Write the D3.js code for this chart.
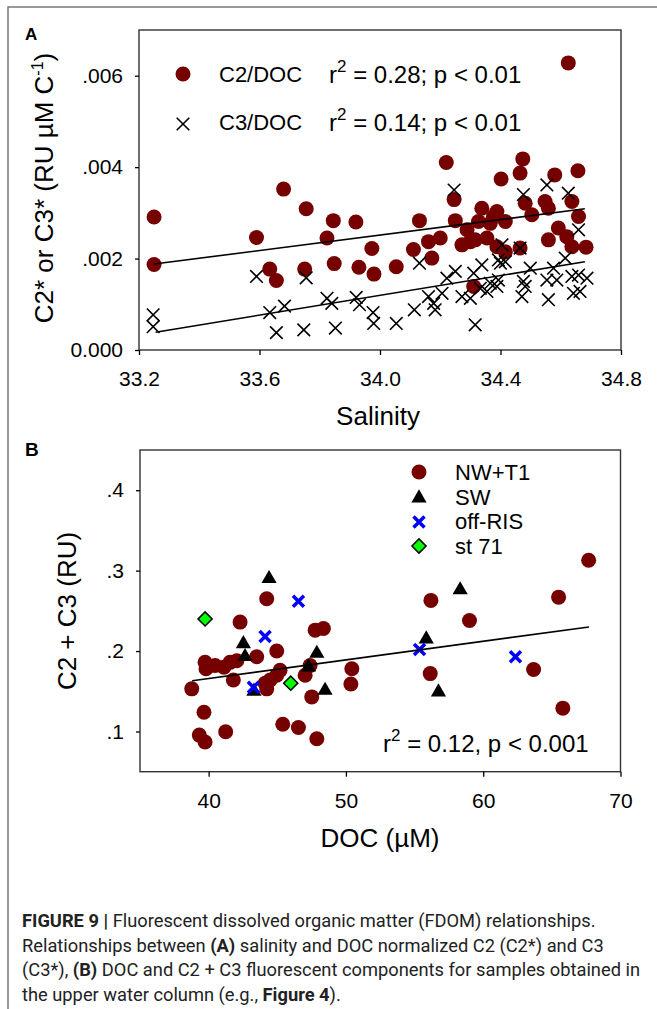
<!DOCTYPE html>
<head>
<meta charset="utf-8">
<title>FDOM relationships</title>
<script src="https://cdn.jsdelivr.net/npm/d3@7/dist/d3.min.js"></script>
<style>
    body { margin: 0; background: #fff; }
    text { font-family: "Liberation Sans", Arial, sans-serif; }
</style>
</head>
<body>
<script>
    // ---- panel A data (salinity vs DOC normalised C2 / C3) ----
    var c2Sal = [33.25, 33.25, 33.59, 33.68, 33.755, 33.845, 33.92, 33.824, 33.973, 33.634,
                 33.656, 33.75, 33.848, 33.93, 33.98, 34.054, 34.131, 34.111, 34.161, 34.2,
                 34.172, 34.22, 34.246, 34.25, 34.272, 34.3, 34.327, 34.338, 34.316, 34.355,
                 34.388, 34.416, 34.366, 34.388, 34.416, 34.465, 34.402, 34.474, 34.465, 34.482,
                 34.504, 34.548, 34.559, 34.559, 34.58, 34.592, 34.62, 34.637, 34.659, 34.637,
                 34.684, 34.657, 34.625, 34.311, 34.289, 34.377];
    var c2Val = [0.00291, 0.00187, 0.00246, 0.00352, 0.00309, 0.00283, 0.0028, 0.00245, 0.00222, 0.00177,
                 0.00152, 0.00177, 0.00189, 0.00181, 0.00166, 0.00182, 0.00283, 0.0022, 0.00237, 0.00245,
                 0.00201, 0.0041, 0.00329, 0.00283, 0.0023, 0.00237, 0.00281, 0.0031, 0.00241, 0.00245,
                 0.00303, 0.00281, 0.00277, 0.00226, 0.00215, 0.00223, 0.00374, 0.00418, 0.00387, 0.00321,
                 0.00296, 0.00325, 0.0031, 0.00241, 0.00383, 0.00267, 0.00248, 0.00325, 0.00292, 0.00226,
                 0.00225, 0.00392, 0.00628, 0.00139, 0.00263, 0.00292];

    var c3Sal = [33.247, 33.247, 33.59, 33.634, 33.683, 33.656, 33.755, 33.747, 33.824, 33.84,
                 33.852, 33.921, 33.932, 33.977, 33.979, 34.054, 34.114, 34.131, 34.161, 34.178,
                 34.183, 34.206, 34.222, 34.25, 34.246, 34.272, 34.3, 34.316, 34.311, 34.338,
                 34.333, 34.355, 34.366, 34.388, 34.393, 34.4, 34.405, 34.393, 34.416, 34.465,
                 34.476, 34.499, 34.476, 34.482, 34.471, 34.554, 34.576, 34.554, 34.587, 34.559,
                 34.615, 34.625, 34.659, 34.637, 34.659, 34.687, 34.642, 34.664];
    var c3Val = [0.00077, 0.00051, 0.00161, 0.00082, 0.00096, 0.00038, 0.00158, 0.00044, 0.00113, 0.00102,
                 0.00048, 0.00115, 0.00099, 0.00082, 0.00058, 0.00058, 0.00088, 0.0019, 0.00117, 0.00102,
                 0.00088, 0.00124, 0.00157, 0.00172, 0.0035, 0.00117, 0.00113, 0.00055, 0.00168, 0.00186,
                 0.00135, 0.00128, 0.00146, 0.00139, 0.00153, 0.0019, 0.0023, 0.00197, 0.00193, 0.00223,
                 0.0034, 0.00179, 0.0015, 0.00139, 0.00117, 0.00361, 0.00179, 0.00153, 0.00153, 0.0011,
                 0.00201, 0.00343, 0.00263, 0.00161, 0.00164, 0.00157, 0.00124, 0.00128];

    // fitted lines: [x, y] end points
    var c2Fit = [[33.25, 0.00188], [34.68, 0.00309]];
    var c3Fit = [[33.255, 0.00039], [34.68, 0.00193]];

    var salTicks = [33.2, 33.6, 34.0, 34.4, 34.8];
    var aTicks = [0, 0.002, 0.004, 0.006];
    var aTickLabels = ["0.000", ".002", ".004", ".006"];

    // ---- panel B data (DOC vs C2 + C3) ----
    var nwDoc = [38.77, 39.66, 39.32, 39.74, 41.24, 39.74, 39.81, 40.47, 41.12, 41.56,
                 42.05, 41.8, 42.29, 43.5, 44.23, 44.96, 44.23, 44.48, 44.96, 45.2,
                 44.11, 45.4, 46.54, 47.88, 47.51, 47.03, 47.39, 47.76, 48.36, 50.43,
                 50.36, 56.19, 56.14, 59.0, 65.49, 67.68, 63.67, 65.8];
    var nwVal = [0.153, 0.124, 0.0955, 0.087, 0.0996, 0.186, 0.178, 0.182, 0.18, 0.186,
                 0.188, 0.164, 0.236, 0.193, 0.265, 0.2, 0.153, 0.164, 0.17, 0.176,
                 0.16, 0.109, 0.105, 0.091, 0.143, 0.17, 0.182, 0.226, 0.228, 0.178,
                 0.159, 0.263, 0.172, 0.238, 0.267, 0.313, 0.177, 0.129];

    var swDoc = [44.4, 42.53, 42.65, 43.3, 47.88, 47.27, 48.48, 58.32, 55.85, 56.74];
    var swVal = [0.29, 0.209, 0.193, 0.15, 0.197, 0.18, 0.151, 0.276, 0.215, 0.149];

    var offDoc = [46.54, 44.11, 43.26, 55.36, 62.35];
    var offVal = [0.262, 0.218, 0.155, 0.202, 0.193];

    var stDoc = [39.74, 45.98];
    var stVal = [0.24, 0.16];

    var bFit = [[38.8, 0.163], [67.7, 0.23]];

    var docTicks = [40, 50, 60, 70];
    var bTicks = [0.1, 0.2, 0.3, 0.4];
    var bTickLabels = [".1", ".2", ".3", ".4"];

    var darkRed = "#760000";

    var svg = d3.select("body")
                .append("svg")
                .attr("width", 657)
                .attr("height", 1009);

    // outer figure frame (only left and top visible)
    svg.append("path")
        .attr("d", "M8,1009 L8,7 L657,7")
        .attr("fill", "none")
        .attr("stroke", "#777")
        .attr("stroke-width", 1.5);

    var crossPath = function(h) {
        return "M" + (-h) + "," + (-h) + "L" + h + "," + h + "M" + (-h) + "," + h + "L" + h + "," + (-h);
    };

    // ================= panel A =================
    var xA = d3.scaleLinear().domain([33.2, 34.8]).range([139, 621]);
    var yA = d3.scaleLinear().domain([0, 0.007]).range([350, 30]);

    var gA = svg.append("g");

    gA.append("rect")
        .attr("x", xA.range()[0])
        .attr("y", yA.range()[1])
        .attr("width", xA.range()[1] - xA.range()[0])
        .attr("height", yA.range()[0] - yA.range()[1])
        .attr("fill", "none")
        .attr("stroke", "#333")
        .attr("stroke-width", 1.4);

    gA.append("g")
        .attr("transform", "translate(0," + yA.range()[0] + ")")
        .call(d3.axisBottom(xA).tickValues(salTicks).tickFormat(d3.format(".1f"))
              .tickSize(5).tickPadding(16));
    gA.append("g")
        .attr("transform", "translate(" + xA.range()[0] + ",0)")
        .call(d3.axisLeft(yA).tickValues(aTicks).tickFormat(function(d, i) { return aTickLabels[i]; })
              .tickSize(4).tickPadding(12));

    // C2 circles
    gA.selectAll("circle.c2")
        .data(c2Sal)
        .enter()
        .append("circle")
            .attr("class", "c2")
            .attr("cx", function(d) { return xA(d); })
            .attr("cy", function(d, i) { return yA(c2Val[i]); })
            .attr("r", 7.5)
            .attr("fill", darkRed);

    // C3 crosses
    gA.selectAll("path.c3")
        .data(c3Sal)
        .enter()
        .append("path")
            .attr("class", "c3")
            .attr("d", crossPath(6.3))
            .attr("transform", function(d, i) { return "translate(" + xA(d) + "," + yA(c3Val[i]) + ")"; })
            .attr("stroke", "#000")
            .attr("stroke-width", 1.6);

    var lineA = d3.line().x(function(d) { return xA(d[0]); }).y(function(d) { return yA(d[1]); });
    [c2Fit, c3Fit].forEach(function(f) {
        gA.append("path")
            .attr("d", lineA(f))
            .attr("fill", "none")
            .attr("stroke", "#000")
            .attr("stroke-width", 1.6);
    });

    // legend A
    gA.append("circle").attr("cx", 183).attr("cy", 74).attr("r", 7.5).attr("fill", darkRed);
    gA.append("path").attr("d", crossPath(6.3)).attr("transform", "translate(183,124)")
        .attr("stroke", "#000").attr("stroke-width", 1.6);
    gA.append("text").attr("x", 219).attr("y", 82).style("font-size", "22px").text("C2/DOC");
    gA.append("text").attr("x", 219).attr("y", 130).style("font-size", "22px").text("C3/DOC");

    function rSquared(g, x, y, rest) {
        var t = g.append("text").attr("x", x).attr("y", y).style("font-size", "24px");
        t.append("tspan").text("r");
        t.append("tspan").attr("dy", -11).style("font-size", "17px").text("2");
        t.append("tspan").attr("dy", 11).text(" " + rest);
    }
    rSquared(gA, 329, 83, "= 0.28; p < 0.01");
    rSquared(gA, 329, 131, "= 0.14; p < 0.01");

    gA.append("text")
        .attr("x", 25).attr("y", 40)
        .style("font-size", "17px").attr("font-weight", "bold")
        .text("A");

    gA.append("text")
        .attr("x", 378).attr("y", 425)
        .attr("text-anchor", "middle")
        .style("font-size", "26px")
        .text("Salinity");

    var labA = gA.append("text")
        .attr("transform", "translate(53,188) rotate(-90)")
        .attr("text-anchor", "middle")
        .style("font-size", "26px");
    labA.append("tspan").text("C2* or C3* (RU \u00b5M C");
    labA.append("tspan").attr("dy", -10).style("font-size", "16px").text("-1");
    labA.append("tspan").attr("dy", 10).text(")");

    // ================= panel B =================
    var xB = d3.scaleLinear().domain([35, 70]).range([140, 620.5]);
    var yB = d3.scaleLinear().domain([0.05, 0.45]).range([771.7, 450]);

    var gB = svg.append("g");

    gB.append("rect")
        .attr("x", xB.range()[0])
        .attr("y", yB.range()[1])
        .attr("width", xB.range()[1] - xB.range()[0])
        .attr("height", yB.range()[0] - yB.range()[1])
        .attr("fill", "none")
        .attr("stroke", "#333")
        .attr("stroke-width", 1.4);

    gB.append("g")
        .attr("transform", "translate(0," + yB.range()[0] + ")")
        .call(d3.axisBottom(xB).tickValues(docTicks).tickFormat(d3.format("d"))
              .tickSize(5).tickPadding(16));
    gB.append("g")
        .attr("transform", "translate(" + xB.range()[0] + ",0)")
        .call(d3.axisLeft(yB).tickValues(bTicks).tickFormat(function(d, i) { return bTickLabels[i]; })
              .tickSize(4).tickPadding(12));

    gB.selectAll("circle.nw")
        .data(nwDoc)
        .enter()
        .append("circle")
            .attr("class", "nw")
            .attr("cx", function(d) { return xB(d); })
            .attr("cy", function(d, i) { return yB(nwVal[i]); })
            .attr("r", 7.5)
            .attr("fill", darkRed);

    var tri = d3.symbol().type(d3.symbolTriangle).size(100);
    gB.selectAll("path.sw")
        .data(swDoc)
        .enter()
        .append("path")
            .attr("class", "sw")
            .attr("d", tri)
            .attr("transform", function(d, i) { return "translate(" + xB(d) + "," + yB(swVal[i]) + ")"; })
            .attr("fill", "#000");

    gB.selectAll("path.off")
        .data(offDoc)
        .enter()
        .append("path")
            .attr("class", "off")
            .attr("d", crossPath(5.5))
            .attr("transform", function(d, i) { return "translate(" + xB(d) + "," + yB(offVal[i]) + ")"; })
            .attr("stroke", "#0000ff")
            .attr("stroke-width", 3.5);

    var sq = d3.symbol().type(d3.symbolSquare).size(100);
    gB.selectAll("path.st")
        .data(stDoc)
        .enter()
        .append("path")
            .attr("class", "st")
            .attr("d", sq)
            .attr("transform", function(d, i) { return "translate(" + xB(d) + "," + yB(stVal[i]) + ") rotate(45)"; })
            .attr("fill", "#00ff00")
            .attr("stroke", "#000")
            .attr("stroke-width", 1.5);

    var lineB = d3.line().x(function(d) { return xB(d[0]); }).y(function(d) { return yB(d[1]); });
    gB.append("path")
        .attr("d", lineB(bFit))
        .attr("fill", "none")
        .attr("stroke", "#000")
        .attr("stroke-width", 1.6);

    // legend B
    var legX = 419;
    gB.append("circle").attr("cx", legX).attr("cy", 472).attr("r", 7.5).attr("fill", darkRed);
    gB.append("path").attr("d", tri).attr("transform", "translate(" + legX + ",498)").attr("fill", "#000");
    gB.append("path").attr("d", crossPath(5.5)).attr("transform", "translate(" + legX + ",522)")
        .attr("stroke", "#0000ff").attr("stroke-width", 3.5);
    gB.append("path").attr("d", sq).attr("transform", "translate(" + legX + ",546) rotate(45)")
        .attr("fill", "#00ff00").attr("stroke", "#000").attr("stroke-width", 1.5);
    var legNames = ["NW+T1", "SW", "off-RIS", "st 71"];
    gB.selectAll("text.leg")
        .data(legNames)
        .enter()
        .append("text")
            .attr("class", "leg")
            .attr("x", 455)
            .attr("y", function(d, i) { return 480 + i * 24.6; })
            .style("font-size", "22px")
            .text(function(d) { return d; });

    rSquared(gB, 383, 752, "= 0.12, p < 0.001");

    gB.append("text")
        .attr("x", 25).attr("y", 456)
        .style("font-size", "19px").attr("font-weight", "bold")
        .text("B");

    gB.append("text")
        .attr("x", 380).attr("y", 847)
        .attr("text-anchor", "middle")
        .style("font-size", "26px")
        .text("DOC (\u00b5M)");

    gB.append("text")
        .attr("transform", "translate(76,611) rotate(-90)")
        .attr("text-anchor", "middle")
        .style("font-size", "26px")
        .text("C2 + C3 (RU)");

    // style all tick text
    svg.selectAll(".tick text").style("font-size", "21px").attr("fill", "#000")
        .style("font-family", "'Liberation Sans', Arial, sans-serif");
    svg.selectAll(".tick line").attr("stroke", "#000").attr("stroke-width", 1.3);
    svg.selectAll(".domain").remove();

    // ================= caption =================
    var caption = [
        [["FIGURE 9 | ", true], ["Fluorescent dissolved organic matter (FDOM) relationships.", false]],
        [["Relationships between ", false], ["(A)", true], [" salinity and DOC normalized C2 (C2*) and C3", false]],
        [["(C3*), ", false], ["(B)", true], [" DOC and C2 + C3 fluorescent components for samples obtained in", false]],
        [["the upper water column (e.g., ", false], ["Figure 4", true], [").", false]]
    ];
    var capG = svg.append("g");
    caption.forEach(function(line, i) {
        var t = capG.append("text")
            .attr("x", 22)
            .attr("y", 927 + i * 24.5)
            .attr("fill", "#222")
            .style("font-size", "18.3px")
            .style("font-family", "Roboto, 'Liberation Sans', Arial, sans-serif");
        line.forEach(function(p) {
            t.append("tspan").attr("font-weight", p[1] ? "bold" : "normal").text(p[0]);
        });
    });
</script>
</body>
</html>
